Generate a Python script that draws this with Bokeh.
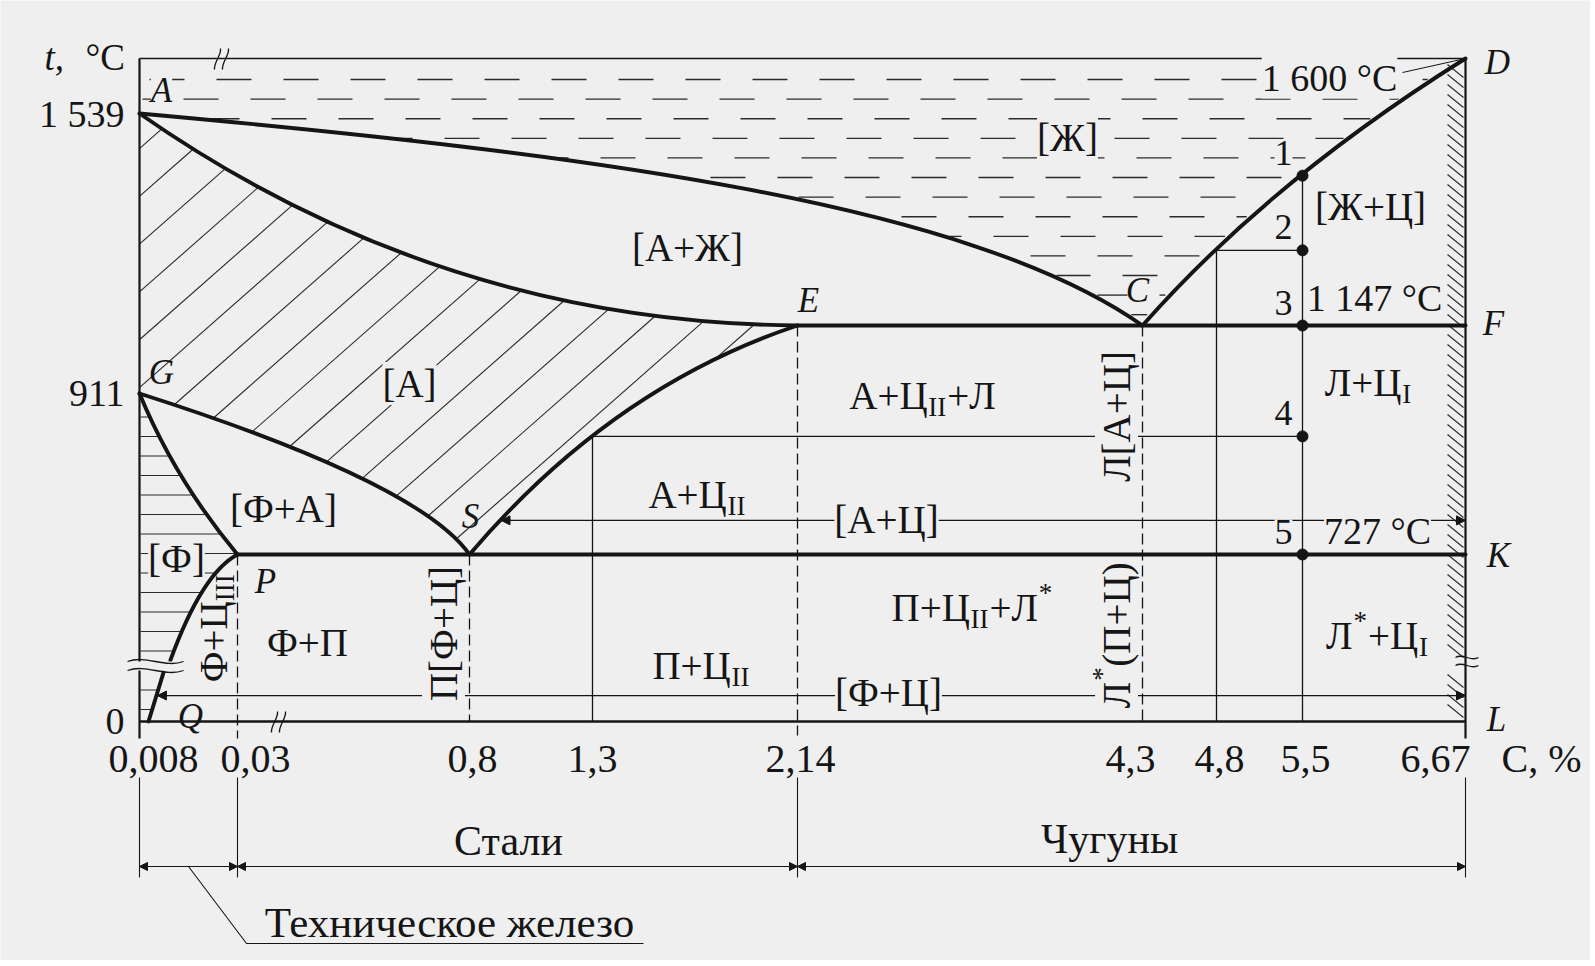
import re
import numpy as np
from bokeh.plotting import figure
from bokeh.models import Range1d, ColumnDataSource, Arrow, NormalHead
from bokeh.embed import file_html
from bokeh.resources import INLINE
from bokeh.core.properties import value

# ======================= DATA (carbon, %  /  temperature, °C) =======================
C_TICKS = [0.008, 0.03, 0.8, 1.3, 2.14, 4.3, 4.8, 5.5, 6.67]
C_TICK_LABELS = ["0,008", "0,03", "0,8", "1,3", "2,14", "4,3", "4,8", "5,5", "6,67"]
T_TICKS = [0, 911, 1539]
T_TICK_LABELS = ["0", "911", "1 539"]

POINT_NAMES = ["A", "D", "C", "E", "F", "G", "S", "P", "K", "Q", "L"]
POINT_C = [0.0, 6.67, 4.3, 2.14, 6.67, 0.0, 0.8, 0.03, 6.67, 0.008, 6.67]
POINT_T = [1539, 1600, 1147, 1147, 1147, 911, 727, 727, 727, 0, 0]

# phase boundaries: start point, Bezier control point(s), end point
AC_C = [0.0, 1.288, 3.204, 4.3];   AC_T = [1539, 1464, 1374, 1147]   # liquidus A-C
CD_C = [4.3, 5.24, 6.67];          CD_T = [1147, 1415, 1600]         # liquidus C-D
AE_C = [0.0, 0.697, 2.14];         AE_T = [1539, 1153, 1147]         # solidus A-E
ES_C = [2.14, 1.378, 0.8];         ES_T = [1147, 932, 727]           # E-S
GS_C = [0.0, 0.633, 0.8];          GS_T = [911, 809, 727]            # G-S
GP_C = [0.0, 0.0145, 0.03];        GP_T = [911, 813, 727]            # G-P
PQU_C = [0.03, 0.0212, 0.0134];    PQU_T = [727, 644, 266]           # P-Q (above break)
PQL_C = [0.0117, 0.008];           PQL_T = [213, 0]                  # P-Q (below break)

ECF_C = [2.14, 6.67]; ECF_T = 1147
PSK_C = [0.03, 6.67]; PSK_T = 727

# cooling of the 5.5 % C alloy and auxiliary alloys
ALLOY_C = 5.5
ALLOY_T = [1424, 1286, 1147, 862, 727]
ALLOY_LABELS = ["1", "2", "3", "4", "5"]
HYPER_C, HYPER_T = 4.8, 1286
HYPO_C, HYPO_T = 1.3, 862
AC_LINE_T = 766   # [А+Ц] structure line
FC_LINE_T = 113   # [Ф+Ц] structure line
ISO_T = [1600, 1147, 727]

CLASS_BOUNDS_C = [0.0, 0.03, 2.14, 6.67]
CLASS_NAMES = ["Техническое железо", "Стали", "Чугуны"]

REGION_TEXT = ["[Ж]", "[А+Ж]", "[А]", "[Ф+А]", "[Ф]", "Ф+П", "Ф+Ц_{III}", "П[Ф+Ц]",
               "А+Ц_{II}+Л", "А+Ц_{II}", "[А+Ц]", "П+Ц_{II}+Л^{*}", "П+Ц_{II}", "[Ф+Ц]",
               "Л[А+Ц]", "Л^{*}(П+Ц)", "Л+Ц_{I}", "Л^{*}+Ц_{I}", "[Ж+Ц]"]

# ======================= LAYOUT / STYLE =======================
BG = "#efefef"
INK = "#151515"
FONT = "Liberation Serif"

# schematic (non-linear) scale of the printed diagram: value -> page pixel
X_KNOT_C = [0.0, 0.008, 0.03, 0.8, 1.3, 2.14, 4.3, 4.8, 5.5, 6.67]
X_KNOT_PX = [139, 148, 237, 469, 592, 797, 1142, 1216, 1302, 1465]
Y_KNOT_T = [0, 727, 911, 1147, 1539, 1600]
Y_KNOT_PX = [721, 554, 393, 325, 113, 58]


def X(c):
    return np.interp(np.asarray(c, dtype=float), X_KNOT_C, X_KNOT_PX)


def Y(t):
    return np.interp(np.asarray(t, dtype=float), Y_KNOT_T, Y_KNOT_PX)


REGION_XY = [(1067, 137), (687, 247), (409, 383), (283, 508), (176, 558), (307, 642),
             (213, 627), (443, 633), (922, 395), (697, 494), (886, 519), (972, 607),
             (701, 665), (888, 692), (1116, 416), (1116, 635), (1368, 382), (1377, 635),
             (1370, 206)]
REGION_ROT = [0, 0, 0, 0, 0, 0, 1, 1, 0, 0, 0, 0, 0, 0, 1, 1, 0, 0, 0]
REGION_MASK = [1, 0, 1, 0, 1, 0, 0, 1, 0, 0, 1, 0, 0, 1, 1, 1, 0, 0, 0]

W, H = 1590, 960
p = figure(width=W, height=H, x_range=Range1d(0, W), y_range=Range1d(H, 0),
           output_backend="svg", toolbar_location=None, min_border=0,
           x_axis_location=None, y_axis_location=None,
           background_fill_color=BG, border_fill_color=BG, outline_line_color=None)
p.xgrid.visible = False
p.ygrid.visible = False

THICK = dict(line_color=INK, line_width=3.9, line_cap="round", line_join="round")


def boundary(cs, ts):
    xs, ys = [float(v) for v in X(cs)], [float(v) for v in Y(ts)]
    if len(xs) == 2:
        p.line(xs, ys, **THICK)
    elif len(xs) == 3:
        p.quadratic(x0=[xs[0]], y0=[ys[0]], x1=[xs[2]], y1=[ys[2]], cx=[xs[1]], cy=[ys[1]], **THICK)
    else:
        p.bezier(x0=[xs[0]], y0=[ys[0]], x1=[xs[3]], y1=[ys[3]], cx0=[xs[1]], cy0=[ys[1]],
                 cx1=[xs[2]], cy1=[ys[2]], **THICK)


def trace(cs, ts, n=400):
    """screen-space trace of a boundary (used only to clip the hatching)."""
    P = np.column_stack([X(cs), Y(ts)])
    t = np.linspace(0, 1, n)[:, None]
    if len(P) == 2:
        Q = (1 - t) * P[0] + t * P[1]
    elif len(P) == 3:
        Q = (1 - t) ** 2 * P[0] + 2 * t * (1 - t) * P[1] + t ** 2 * P[2]
    else:
        Q = ((1 - t) ** 3 * P[0] + 3 * t * (1 - t) ** 2 * P[1] + 3 * t ** 2 * (1 - t) * P[2]
             + t ** 3 * P[3])
    return Q[:, 0], Q[:, 1]


def thin(xs, ys, w=1.3, dash="solid", color=INK):
    p.line([float(v) for v in xs], [float(v) for v in ys], line_color=color,
           line_width=w, line_dash=dash)


def head(xt, yt, dx, dy, size=9):
    p.add_layout(Arrow(end=NormalHead(size=size, fill_color=INK, line_color=INK, line_width=1),
                       x_start=float(xt + dx * 10), y_start=float(yt + dy * 10),
                       x_end=float(xt), y_end=float(yt), line_color=INK, line_width=1.2))


x0, x1 = float(X(0)), float(X(6.67))
y_top, y_bot = float(Y(1600)), float(Y(0))
EXT = 17

ae_x, ae_y = trace(AE_C, AE_T)
es_x, es_y = trace(ES_C, ES_T)
gs_x, gs_y = trace(GS_C, GS_T)
gp_x, gp_y = trace(GP_C, GP_T)
pu_x, pu_y = trace(PQU_C, PQU_T)
pl_x, pl_y = trace(PQL_C, PQL_T)
ac_x, ac_y = trace(AC_C, AC_T)
cd_x, cd_y = trace(CD_C, CD_T)


# ---------- hatch: austenite region [A] ----------
def in_poly(px, py, vx, vy):
    res = np.zeros(px.shape, bool)
    n = len(vx)
    j = n - 1
    for i in range(n):
        xi, yi, xj, yj = vx[i], vy[i], vx[j], vy[j]
        if yi != yj:
            cross = ((yi > py) != (yj > py)) & (px < (xj - xi) * (py - yi) / (yj - yi) + xi)
            res ^= cross
        j = i
    return res


def runs(mask):
    m = np.concatenate([[0], mask.astype(int), [0]])
    d = np.diff(m)
    return list(zip(np.where(d == 1)[0], np.where(d == -1)[0] - 1))


poly_x = np.concatenate([ae_x, es_x[1:], gs_x[::-1][1:]])
poly_y = np.concatenate([ae_y, es_y[1:], gs_y[::-1][1:]])
hx0, hy0, hx1, hy1 = [], [], [], []
slope, gap = 0.88, 47.8
c0 = 148 + slope * 139
xs = np.arange(139.5, 800, 0.5)
for k in range(-5, 45):
    c = c0 + k * gap
    ys = c - slope * xs
    msk = in_poly(xs, ys, poly_x, poly_y)
    for a, b in runs(msk):
        if b - a > 4:
            hx0.append(xs[a]); hy0.append(ys[a]); hx1.append(xs[b]); hy1.append(ys[b])
p.segment(hx0, hy0, hx1, hy1, line_color="#2a2a2a", line_width=1.1)

# ---------- hatch: ferrite region [Ф] ----------
fx0, fy0, fx1, fy1 = [], [], [], []
for k in range(-12, 8):
    yy = 592 + 19.5 * k
    if yy < 398 or yy > 716 or 656 < yy < 676:
        continue
    if yy <= gp_y[-1]:
        xr = np.interp(yy, gp_y, gp_x)
    elif yy <= pu_y[-1]:
        xr = np.interp(yy, pu_y, pu_x)
    else:
        xr = np.interp(yy, pl_y, pl_x)
    fx0.append(x0 + 1); fy0.append(yy); fx1.append(xr - 1); fy1.append(yy)
p.segment(fx0, fy0, fx1, fy1, line_color="#2a2a2a", line_width=1.1)

# ---------- liquid region dashes [Ж] ----------
row_phase = [10, 44, 65, 37, 59, 35, 56, 25, 50, 20, 45, 15, 40]
lx0, ly0, lx1, ly1 = [], [], [], []
for k in range(13):
    yr = 79 + 19.6 * k
    if yr > 318:
        break
    left = x0 + 3 if yr <= ac_y[0] else np.interp(yr, ac_y, ac_x) + 5
    right = np.interp(yr, cd_y[::-1], cd_x[::-1]) - 5
    s = x0 + row_phase[k] - 67 * 3
    while s < right:
        a, b = max(s, left), min(s + 35, right)
        if b - a > 4:
            lx0.append(a); ly0.append(yr); lx1.append(b); ly1.append(yr)
        s += 67
p.segment(lx0, ly0, lx1, ly1, line_color="#2a2a2a", line_width=1.35)

# ---------- cementite wall hatch ----------
wx0, wy0, wx1, wy1 = [], [], [], []
for yy in range(64, 712, 10):
    if 650 < yy < 672:
        continue
    wx0.append(x1 - 18); wy0.append(yy); wx1.append(x1 - 2); wy1.append(yy + 13)
p.segment(wx0, wy0, wx1, wy1, line_color="#2a2a2a", line_width=1.1)

# ---------- frame ----------
thin([x0, x1], [y_top, y_top], 1.7)
thin([x0, x0], [y_top, y_bot + EXT], 2.2)
thin([x1, x1], [y_top, y_bot + EXT], 2.2)
thin([x0, x1], [y_bot, y_bot], 2.6)

# ---------- dashed verticals ----------
for c, t, ext in [(0.03, 727, EXT), (0.8, 727, 0), (2.14, 1147, 14), (4.3, 1147, 0)]:
    thin([X(c), X(c)], [Y(t), y_bot + ext], 1.3, "11 5")

# ---------- thin process lines ----------
thin([X(ALLOY_C)] * 2, [Y(ALLOY_T[0]), y_bot])
thin([X(HYPER_C)] * 2, [Y(HYPER_T), y_bot])
thin([X(HYPER_C), X(ALLOY_C)], [Y(HYPER_T)] * 2)
thin([X(HYPO_C)] * 2, [Y(HYPO_T), y_bot])
thin([X(HYPO_C), X(ALLOY_C)], [Y(HYPO_T)] * 2)

for (bx, by), t in [((es_x, es_y), AC_LINE_T), ((pl_x, pl_y), FC_LINE_T)]:
    yy = float(Y(t))
    xa = float(np.interp(yy, by, bx)) + 1
    thin([xa, x1], [yy, yy], 1.2)
    head(xa, yy, 1, 0)
    head(x1, yy, -1, 0)

# leader of the 1600 °C note
thin([1402, X(6.67)], [72, Y(1600)], 1.0)

# ---------- phase boundaries ----------
for cs, ts in [(AC_C, AC_T), (CD_C, CD_T), (AE_C, AE_T), (ES_C, ES_T), (GS_C, GS_T),
               (GP_C, GP_T), (PQU_C, PQU_T), (PQL_C, PQL_T)]:
    boundary(cs, ts)
boundary(ECF_C, [ECF_T] * 2)
boundary(PSK_C, [PSK_T] * 2)

p.scatter(X([ALLOY_C] * len(ALLOY_T)), Y(ALLOY_T), size=11, color=INK)

# ---------- break marks ----------
bz = dict(x0=[], y0=[], x1=[], y1=[], cx0=[], cy0=[], cx1=[], cy1=[])


def wave_h(xa, xb, yy, amp):
    bz["x0"].append(xa); bz["y0"].append(yy); bz["x1"].append(xb); bz["y1"].append(yy)
    bz["cx0"].append(xa + (xb - xa) / 3); bz["cy0"].append(yy - amp)
    bz["cx1"].append(xa + 2 * (xb - xa) / 3); bz["cy1"].append(yy + amp)


def wave_v(xx, ya, yb, amp, tilt=3):
    bz["x0"].append(xx + tilt); bz["y0"].append(ya); bz["x1"].append(xx - tilt); bz["y1"].append(yb)
    bz["cx0"].append(xx + amp); bz["cy0"].append(ya + (yb - ya) / 3)
    bz["cx1"].append(xx - amp); bz["cy1"].append(ya + 2 * (yb - ya) / 3)


p.quad(left=[x0 - 12], right=[x0 + 44], top=[661], bottom=[670], fill_color=BG, line_color=None)
wave_h(x0 - 12, x0 + 44, 661, 7)
wave_h(x0 - 12, x0 + 44, 670, 7)
wave_h(x1 - 10, x1 + 13, 657, 5)
wave_h(x1 - 10, x1 + 13, 665, 5)
for xx in (217, 225):
    wave_v(xx, y_top - 10, y_top + 11, 4)
for xx in (274, 282):
    wave_v(xx, y_bot - 10, y_bot + 11, 4)
p.bezier(source=ColumnDataSource(bz), x0="x0", y0="y0", x1="x1", y1="y1", cx0="cx0", cy0="cy0",
         cx1="cx1", cy1="cy1", line_color=INK, line_width=1.3)

# ---------- below-axis classification ----------
for c in CLASS_BOUNDS_C:
    thin([X(c)] * 2, [y_bot + 56, y_bot + 156], 1.1)
y_dim = y_bot + 145
for a, b in zip(CLASS_BOUNDS_C[:-1], CLASS_BOUNDS_C[1:]):
    thin([X(a), X(b)], [y_dim] * 2, 1.1)
    head(float(X(a)), y_dim, 1, 0, 8)
    head(float(X(b)), y_dim, -1, 0, 8)
mid0 = (float(X(CLASS_BOUNDS_C[0])) + float(X(CLASS_BOUNDS_C[1]))) / 2
thin([mid0, mid0 + 58, 643], [y_dim, y_bot + 222, y_bot + 222], 1.1)

# ======================= TEXT =======================
EM = {'А': 0.72, 'Ж': 0.93, 'Ф': 0.76, 'Ц': 0.72, 'Л': 0.68, 'П': 0.72, '+': 0.56, '[': 0.33,
      ']': 0.33, '(': 0.33, ')': 0.33, 'I': 0.33, '*': 0.5, ' ': 0.25, ',': 0.25, '°': 0.4, 'C': 0.67}


def text_w(s, fs):
    return sum(EM.get(ch, 0.5) for ch in s) * fs


def parse(s):
    out = []
    for m in re.finditer(r'_\{([^}]*)\}|\^\{([^}]*)\}|([^_^]+)', s):
        if m.group(1) is not None:
            out.append((m.group(1), 'sub'))
        elif m.group(2) is not None:
            out.append((m.group(2), 'sup'))
        else:
            out.append((m.group(3), 'n'))
    return out


items = []


def item(x, y, t, fs, ang=0.0, italic=False, align="center", mask=False):
    items.append(dict(x=float(x), y=float(y), text=t, size=f"{fs:.0f}px", angle=ang,
                      italic=italic, align=align, mask=mask))


def compose(markup, cx, cy, fs=39, rot=False, mask=False):
    parts = parse(markup)
    size = {'n': fs, 'sub': round(fs * 0.68), 'sup': round(fs * 0.68)}
    shift = {'n': 0.0, 'sub': 0.30 * fs, 'sup': -0.36 * fs}
    widths = [text_w(t, size[k]) + (2 if k != 'n' else 0) for t, k in parts]
    pos = -sum(widths) / 2
    for (t, k), w in zip(parts, widths):
        mid = pos + w / 2
        if rot:
            item(cx + shift[k], cy - mid, t, size[k], np.pi / 2, mask=mask and k == 'n')
        else:
            item(cx + mid, cy + shift[k], t, size[k], 0.0, mask=mask and k == 'n')
        pos += w


for txt, (cx, cy), r, m in zip(REGION_TEXT, REGION_XY, REGION_ROT, REGION_MASK):
    compose(txt, cx, cy, 39, bool(r), bool(m))

# axis tick labels
TICK_DX = [5, 18, 3, 0, 3, -12, 3, 3, -30]
for c, lab, dx in zip(C_TICKS, C_TICK_LABELS, TICK_DX):
    item(X(c) + dx, y_bot + 37, lab, 40)
for t, lab in zip(T_TICKS, T_TICK_LABELS):
    item(x0 - 15, Y(t), lab, 38, align="right")
item(44, 57, "t,", 37, italic=True, align="left")
item(85, 57, "°C", 37, align="left")
item(x1 + 36, y_bot + 37, "C,  %", 40, align="left")

# point letters
POINT_DX = [22, 32, -5, 11, 28, 22, 1, 28, 33, 42, 31]
POINT_DY = [-23, 4, -35, -25, -2, -21, -38, 27, 1, -5, -2]
for nm, c, t, dx, dy in zip(POINT_NAMES, POINT_C, POINT_T, POINT_DX, POINT_DY):
    item(X(c) + dx, Y(t) + dy, nm, 35, italic=True, mask=(nm == "A"))

# numbered points of the 5.5 % alloy
for t, lab in zip(ALLOY_T, ALLOY_LABELS):
    item(X(ALLOY_C) - 19, Y(t) - 23, lab, 36, mask=lab in ("1", "5"))

# isotherm notes
ISO_XY = [(1329, 77), (1374, 297), (1377, 530)]
for t, (cx, cy) in zip(ISO_T, ISO_XY):
    item(cx, cy, f"{t:,}".replace(",", " ") + " °C", 38, mask=(t != 1147))

# classification captions
item(449, y_bot + 201, CLASS_NAMES[0], 43)
item(508, y_bot + 119, CLASS_NAMES[1], 42)
item(1109, y_bot + 117, CLASS_NAMES[2], 42)

groups = {}
for it in items:
    groups.setdefault((it["italic"], it["align"], it["mask"]), []).append(it)
for (ital, align, mask), lst in groups.items():
    src = ColumnDataSource(dict(x=[i["x"] for i in lst], y=[i["y"] for i in lst],
                                text=[i["text"] for i in lst], size=[i["size"] for i in lst],
                                angle=[i["angle"] for i in lst]))
    kw = dict(background_fill_color=BG) if mask else {}
    p.text(x="x", y="y", text="text", angle="angle", source=src, text_font=value(FONT),
           text_font_size="size", text_font_style="italic" if ital else "normal",
           text_align=align, text_baseline="middle", text_color=INK, **kw)

open("out.html", "w").write(file_html(p, INLINE))
